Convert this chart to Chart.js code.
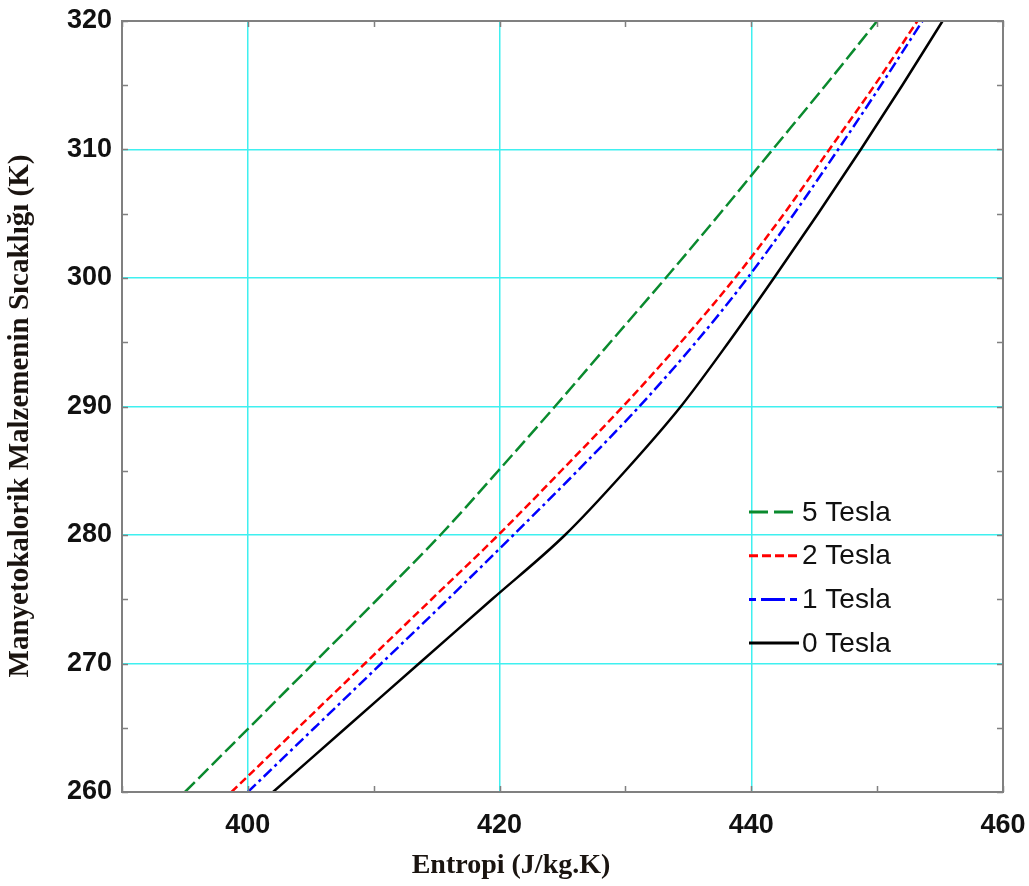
<!DOCTYPE html>
<html>
<head>
<meta charset="utf-8">
<script src="https://cdn.jsdelivr.net/npm/chart.js@4.4.0/dist/chart.umd.min.js"></script>
<style>
html,body{margin:0;padding:0;background:#fff;}
#wrap{width:1029px;height:886px;position:relative;}
canvas{display:block;}
</style>
</head>
<body>
<div id="wrap"><canvas id="c" width="1029" height="886"></canvas></div>
<script>
// ---- data ----
const temperatures = [260, 265, 270, 275, 280, 285, 290, 295, 300, 305, 310, 315, 320];
const entropy5T = [395.0, 400.1, 405.2, 410.3, 415.3, 419.9, 424.4, 428.8, 433.2, 437.5, 441.7, 445.9, 450.0];
const entropy2T = [398.7, 404.0, 409.3, 414.6, 419.9, 424.9, 429.8, 434.4, 438.7, 442.6, 446.2, 449.8, 453.2];
const entropy1T = [400.0, 405.3, 410.6, 415.9, 421.1, 426.2, 431.1, 435.6, 439.7, 443.4, 446.9, 450.3, 453.6];
const entropy0T = [402.0, 407.8, 413.6, 419.4, 425.2, 430.0, 434.4, 438.2, 441.8, 445.3, 448.7, 452.0, 455.2];
const seriesLabels = ['5 Tesla', '2 Tesla', '1 Tesla', '0 Tesla'];
const xTickLabels = [400, 420, 440, 460];
const yTickLabels = [260, 270, 280, 290, 300, 310, 320];
const xTitle = 'Entropi (J/kg.K)';
const yTitle = 'Manyetokalorik Malzemenin Sıcaklığı (K)';

function pts(xs) { return xs.map((v, i) => ({ x: v, y: temperatures[i] })); }

const GRID = '#3ff0f0';

const framePlugin = {
  id: 'frame',
  afterDatasetsDraw(chart) {
    const { ctx, chartArea: a, scales: { x, y } } = chart;
    ctx.save();
    ctx.strokeStyle = '#808080';
    ctx.lineWidth = 1.5;
    ctx.beginPath();
    x.ticks.forEach(t => {
      const px = Math.round(x.getPixelForValue(t.value)) + 0.5;
      ctx.moveTo(px, a.bottom); ctx.lineTo(px, a.bottom - 6);
      ctx.moveTo(px, a.top); ctx.lineTo(px, a.top + 6);
    });
    y.ticks.forEach(t => {
      const py = Math.round(y.getPixelForValue(t.value)) + 0.5;
      ctx.moveTo(a.left, py); ctx.lineTo(a.left + 6, py);
      ctx.moveTo(a.right, py); ctx.lineTo(a.right - 6, py);
    });
    ctx.stroke();
    ctx.lineWidth = 2;
    ctx.strokeRect(a.left, a.top, a.right - a.left, a.bottom - a.top);
    ctx.restore();
  }
};

const titlePlugin = {
  id: 'axisTitles',
  afterDraw(chart, args, opts) {
    const { ctx, chartArea: a } = chart;
    ctx.save();
    ctx.fillStyle = opts.color;
    ctx.textAlign = 'center';
    ctx.textBaseline = 'middle';
    ctx.font = opts.xFont;
    ctx.fillText(opts.xText, a.left + opts.xDx, a.bottom + opts.xDy);
    ctx.translate(opts.yX, a.top + opts.yDy);
    ctx.rotate(-Math.PI / 2);
    ctx.font = opts.yFont;
    ctx.fillText(opts.yText, 0, 0);
    ctx.restore();
  }
};

const legendPlugin = {
  id: 'inlineLegend',
  afterDraw(chart, args, opts) {
    const { ctx, chartArea: a } = chart;
    ctx.save();
    chart.data.datasets.forEach((ds, i) => {
      const yy = a.top + opts.top + i * opts.rowGap;
      const x0 = a.left + opts.left;
      ctx.strokeStyle = ds.borderColor;
      ctx.lineWidth = 3;
      ctx.setLineDash(opts.dashes[i]);
      ctx.beginPath();
      ctx.moveTo(x0, yy); ctx.lineTo(x0 + opts.lineLen, yy);
      ctx.stroke();
      ctx.setLineDash([]);
      ctx.fillStyle = '#111';
      ctx.font = opts.font;
      ctx.textBaseline = 'middle';
      ctx.textAlign = 'left';
      ctx.fillText(ds.label, x0 + opts.lineLen + 3, yy + 1);
    });
    ctx.restore();
  }
};

new Chart(document.getElementById('c'), {
  type: 'line',
  data: {
    datasets: [
      { label: seriesLabels[0], data: pts(entropy5T), borderColor: '#0a8a2e', borderDash: [14, 5] },
      { label: seriesLabels[1], data: pts(entropy2T), borderColor: '#ff0000', borderDash: [8, 4] },
      { label: seriesLabels[2], data: pts(entropy1T), borderColor: '#0000ff', borderDash: [11, 4, 3, 4] },
      { label: seriesLabels[3], data: pts(entropy0T), borderColor: '#000000', borderDash: [] }
    ]
  },
  options: {
    responsive: false,
    animation: false,
    devicePixelRatio: 1,
    layout: { padding: { top: 21, right: 26, bottom: 0, left: 0 } },
    elements: {
      point: { radius: 0 },
      line: { borderWidth: 2.5, cubicInterpolationMode: 'monotone', fill: false }
    },
    plugins: {
      legend: { display: false },
      tooltip: { enabled: false },
      inlineLegend: {
        left: 627, top: 491, rowGap: 43.7, lineLen: 50,
        font: '28px "Liberation Sans", Arial, sans-serif',
        dashes: [[19, 6], [9, 4], [7, 5, 24, 5], []]
      },
      axisTitles: {
        color: '#1a1410',
        xText: xTitle, xFont: 'bold 28px "Liberation Serif", "Times New Roman", serif',
        xDx: 389, xDy: 74,
        yText: yTitle, yFont: 'bold 29px "Liberation Serif", "Times New Roman", serif',
        yX: 21, yDy: 395
      }
    },
    scales: {
      x: {
        type: 'linear', min: 390, max: 460,
        afterFit(s) { s.height = 94; s.paddingLeft = 0; s.paddingRight = 0; },
        border: { display: false },
        grid: {
          drawTicks: false, lineWidth: 1.5,
          color: c => (c.tick && xTickLabels.includes(c.tick.value) && c.tick.value !== 460) ? GRID : 'rgba(0,0,0,0)'
        },
        ticks: {
          stepSize: 10, padding: 17, color: '#111', maxRotation: 0, autoSkip: false,
          font: { family: '"Liberation Sans", Arial, sans-serif', size: 27, weight: 'bold' },
          callback: v => xTickLabels.includes(v) ? String(v) : ''
        }
      },
      y: {
        type: 'linear', min: 260, max: 320,
        afterFit(s) { s.width = 122; s.paddingTop = 0; s.paddingBottom = 0; },
        border: { display: false },
        grid: {
          drawTicks: false, lineWidth: 1.5,
          color: c => (c.tick && yTickLabels.includes(c.tick.value) && c.tick.value !== 260 && c.tick.value !== 320) ? GRID : 'rgba(0,0,0,0)'
        },
        ticks: {
          stepSize: 5, padding: 10, color: '#111', autoSkip: false,
          font: { family: '"Liberation Sans", Arial, sans-serif', size: 27, weight: 'bold' },
          callback: v => yTickLabels.includes(v) ? String(v) : ''
        }
      }
    }
  },
  plugins: [framePlugin, legendPlugin, titlePlugin]
});
</script>
</body>
</html>
